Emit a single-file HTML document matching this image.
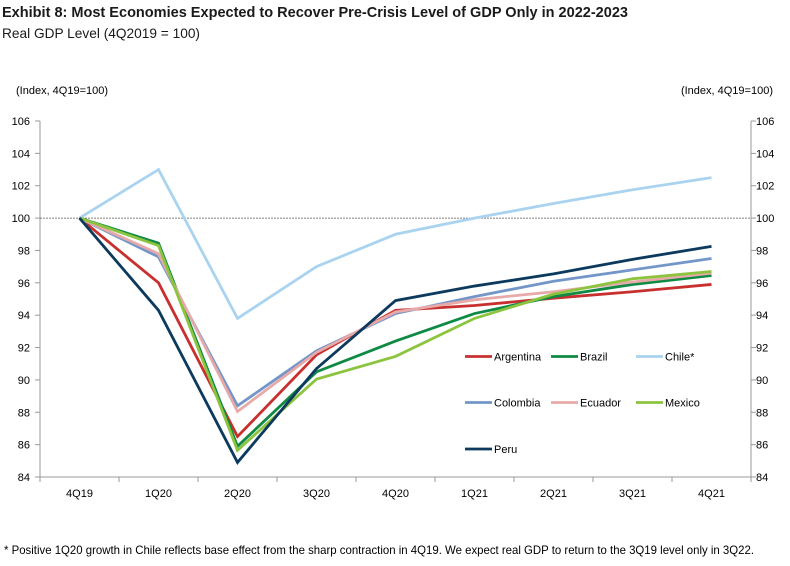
<!DOCTYPE html>
<html><head><meta charset="utf-8"><style>
body{margin:0;background:#fff;}
svg{display:block;font-family:"Liberation Sans",Arial,sans-serif;}
</style></head><body>
<svg id="chart" width="790" height="566">
<text x="2" y="17" font-size="15" font-weight="bold" fill="#1a1a1a" textLength="626" lengthAdjust="spacingAndGlyphs">Exhibit 8: Most Economies Expected to Recover Pre-Crisis Level of GDP Only in 2022-2023</text>
<text x="2" y="38" font-size="14" fill="#1a1a1a" textLength="198" lengthAdjust="spacingAndGlyphs">Real GDP Level (4Q2019 = 100)</text>
<text x="16" y="94" font-size="11" fill="#000">(Index, 4Q19=100)</text>
<text x="773" y="94" font-size="11" fill="#000" text-anchor="end">(Index, 4Q19=100)</text>
<g id="axes"></g>
<g id="series"></g>
<g id="legend"></g>
<text x="4" y="554" font-size="12" fill="#000" textLength="750" lengthAdjust="spacingAndGlyphs">* Positive 1Q20 growth in Chile reflects base effect from the sharp contraction in 4Q19. We expect real GDP to return to the 3Q19 level only in 3Q22.</text>
</svg>
<script>
const categories=["4Q19","1Q20","2Q20","3Q20","4Q20","1Q21","2Q21","3Q21","4Q21"];
const yTicks=[84,86,88,90,92,94,96,98,100,102,104,106];
const seriesNames=["Argentina","Brazil","Chile*","Colombia","Ecuador","Mexico","Peru"];
const argentina=[100,96.0,86.5,91.55,94.3,94.6,95.05,95.45,95.9];
const brazil=[100,98.45,85.9,90.5,92.4,94.1,95.15,95.9,96.45];
const chile=[100,103.0,93.8,97.0,99.0,100.0,100.9,101.75,102.5];
const colombia=[100,97.6,88.4,91.8,94.1,95.15,96.1,96.8,97.5];
const ecuador=[100,97.8,88.05,91.7,94.2,94.95,95.45,96.05,96.6];
const mexico=[100,98.3,85.65,90.05,91.45,93.8,95.3,96.25,96.7];
const peru=[100,94.3,84.9,90.7,94.9,95.8,96.55,97.45,98.25];
const allSeries=[argentina,brazil,chile,colombia,ecuador,mexico,peru];
const colors=["#c8302f","#0e8a45","#a9d3ef","#7396c8","#e8a9a9","#8cc43f","#0b3a5e"];
const NS="http://www.w3.org/2000/svg";
const L=40,R=751,T=121,B=477,yMin=84,yMax=106;
const band=(R-L)/categories.length;
const xPos=i=>L+band*(i+0.5);
const yPos=v=>B-(v-yMin)/(yMax-yMin)*(B-T);
function mk(tag,attrs,parent){const e=document.createElementNS(NS,tag);for(const k in attrs)e.setAttribute(k,attrs[k]);parent.appendChild(e);return e;}
const axes=document.getElementById('axes');
let e;
e=mk('line',{x1:L,y1:T,x2:L,y2:B,stroke:"#999","stroke-width":1},axes);


e=mk('line',{x1:R,y1:T,x2:R,y2:B,stroke:"#999","stroke-width":1},axes);


e=mk('line',{x1:L-5,y1:B,x2:R+5,y2:B,stroke:"#999","stroke-width":1},axes);


e=mk('line',{x1:L,y1:yPos(100),x2:R,y2:yPos(100),stroke:"#555","stroke-width":0.8,"stroke-dasharray":"2,1"},axes);


yTicks.forEach(v=>{
  const y=yPos(v);
  mk('line',{x1:L-5,y1:y,x2:L,y2:y,stroke:"#999"},axes);
  mk('line',{x1:R,y1:y,x2:R+5,y2:y,stroke:"#999"},axes);
  let t=mk('text',{x:L-10,y:y+4,"font-size":11,"text-anchor":"end",fill:"#000"},axes);t.textContent=v;
  
  
  t=mk('text',{x:R+5,y:y+4,"font-size":11,fill:"#000"},axes);t.textContent=v;
  
  
});
for(let i=0;i<=categories.length;i++){mk('line',{x1:L+band*i,y1:B,x2:L+band*i,y2:B+5,stroke:"#999"},axes);}
categories.forEach((c,i)=>{
  const t=mk('text',{x:xPos(i),y:B+20,"font-size":11,"text-anchor":"middle",fill:"#000"},axes);t.textContent=c;
  
  
});
const sg=document.getElementById('series');
allSeries.forEach((s,k)=>{
  const p=mk('polyline',{points:s.map((v,i)=>xPos(i)+","+yPos(v)).join(" "),fill:"none",stroke:colors[k],"stroke-width":2.8,"stroke-linejoin":"miter"},sg);
  
  
});
const lg=document.getElementById('legend');
const lx=[465,551,636],ly=[356.5,402.5,449];
seriesNames.forEach((n,k)=>{
  const x=lx[k%3],y=ly[Math.floor(k/3)];
  const g=mk('g',{},lg);
  
  
  mk('line',{x1:x,y1:y,x2:x+27,y2:y,stroke:colors[k],"stroke-width":2.8},g);
  const t=mk('text',{x:x+29,y:y+4,"font-size":11,fill:"#000"},g);t.textContent=n;
});
</script>
</body></html>
